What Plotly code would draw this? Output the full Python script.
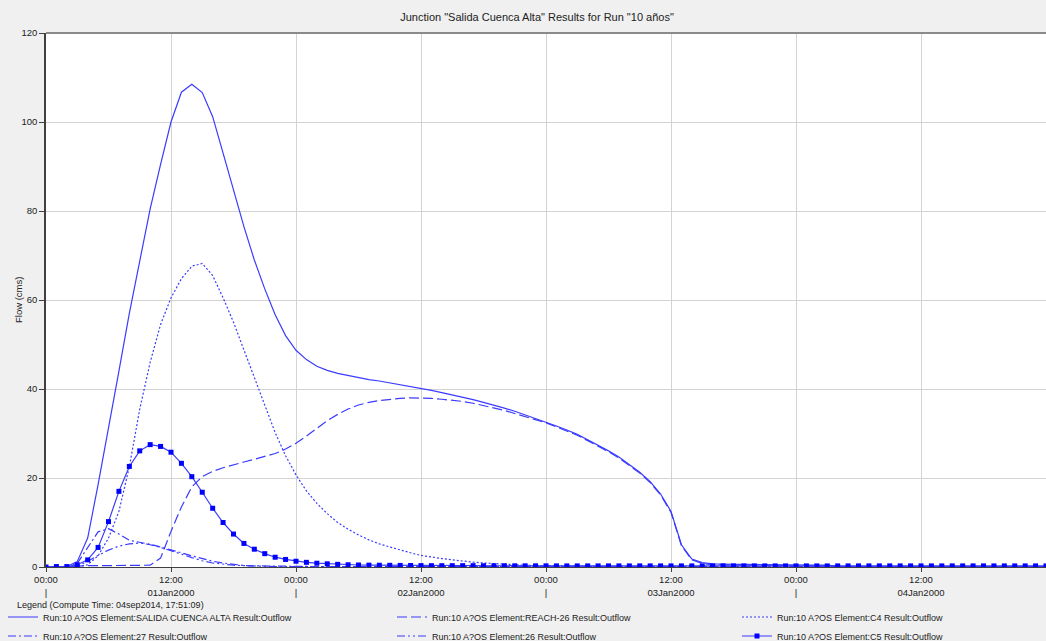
import plotly.graph_objects as go
import pandas as pd

# ---------------- data (hourly, 01Jan2000 00:00 .. 05Jan2000 00:00) ----------------
start_time = "2000-01-01 00:00"
n_hours = 97

salida = [
    0, 0, 0.1, 1.2, 6.5, 18.5, 31, 44, 57, 69,
    80.5, 90.5, 100, 106.7, 108.5, 106.6, 101.2, 93, 84.5, 76.5,
    69, 62.5, 56.7, 52, 48.7, 46.6, 45.1, 44.2, 43.5, 43,
    42.5, 42.1, 41.8, 41.4, 41, 40.6, 40.1, 39.7, 39.2, 38.7,
    38.2, 37.6, 37, 36.4, 35.7, 35, 34.2, 33.4, 32.6, 31.7,
    30.8, 29.8, 28.6, 27.4, 26.1, 24.7, 23.1, 21.3, 19.2, 16.4,
    12.5, 5, 1.8, 1.0, 0.7, 0.6, 0.6, 0.6, 0.6, 0.55,
    0.55, 0.5, 0.5, 0.5, 0.45, 0.4, 0.15, 0.1, 0.1, 0.1,
    0.1, 0.1, 0.1, 0.1, 0.1, 0.1, 0.1, 0.1, 0.1, 0.1,
    0.1, 0.1, 0.1, 0.1, 0.1, 0.1, 0.1,
]

reach26 = [
    0, 0.1, 0.2, 0.3, 0.3, 0.3, 0.3, 0.3, 0.3, 0.3,
    0.4, 2, 8, 13.5, 18, 20.3, 21.5, 22.3, 23, 23.6,
    24.2, 24.8, 25.5, 26.5, 27.8, 29.4, 31.2, 32.9, 34.3, 35.5,
    36.4, 37, 37.4, 37.7, 37.9, 38, 38, 37.9, 37.7, 37.5,
    37.2, 36.8, 36.3, 35.8, 35.2, 34.5, 33.8, 33.1, 32.4, 31.5,
    30.6, 29.6, 28.4, 27.2, 25.9, 24.5, 22.9, 21.1, 19.0, 16.2,
    12.3, 4.8, 1.6, 0.8, 0.5, 0.4, 0.4, 0.4, 0.4, 0.35,
    0.35, 0.3, 0.3, 0.3, 0.3, 0.25, 0.1, 0.05, 0.05, 0.05,
    0.05, 0.05, 0.05, 0.05, 0.05, 0.05, 0.05, 0.05, 0.05, 0.05,
    0.05, 0.05, 0.05, 0.05, 0.05, 0.05, 0.05,
]

c4 = [
    0, 0, 0, 0.1, 0.5, 2.5, 6.5, 12.5, 22.5, 35.5,
    46, 54.5, 60.5, 64.8, 67.6, 68.2, 65.5, 60.5, 55, 48.8,
    42.5, 36.3, 30.2, 25, 20.7, 17.1, 14.3, 12, 10, 8.5,
    7.2, 6.1, 5.2, 4.5, 3.8, 3.2, 2.6, 2.2, 1.9, 1.6,
    1.3, 1.1, 0.9, 0.75, 0.6, 0.5, 0.4, 0.35, 0.3, 0.25,
    0.2, 0.2, 0.15, 0.15, 0.1, 0.1, 0.1, 0.1, 0.1, 0.1,
    0.05, 0.05, 0.05, 0.05, 0.05, 0.05, 0.05, 0.05, 0.05, 0.05,
    0.05, 0.05, 0.05, 0.05, 0.05, 0.05, 0.05, 0.05, 0.05, 0.05,
    0.05, 0.05, 0.05, 0.05, 0.05, 0.05, 0.05, 0.05, 0.05, 0.05,
    0.05, 0.05, 0.05, 0.05, 0.05, 0.05, 0.05,
]

el27 = [
    0, 0, 0, 0.8, 4.5, 7.9, 8.6, 7.4, 6.0, 5.6,
    5.1, 4.5, 3.9, 3.2, 2.5, 1.9, 1.3, 0.9, 0.55, 0.35,
    0.25, 0.2, 0.15, 0.1, 0.1, 0.1, 0.1, 0.1, 0.1, 0.1,
    0.05, 0.05, 0.05, 0.05, 0.05, 0.05, 0.05, 0.05, 0.05, 0.05,
    0.05, 0.05, 0.05, 0.05, 0.05, 0.05, 0.05, 0.05, 0.05, 0.05,
    0.05, 0.05, 0.05, 0.05, 0.05, 0.05, 0.05, 0.05, 0.05, 0.05,
    0.05, 0.05, 0.05, 0.05, 0.05, 0.05, 0.05, 0.05, 0.05, 0.05,
    0.05, 0.05, 0.05, 0.05, 0.05, 0.05, 0.05, 0.05, 0.05, 0.05,
    0.05, 0.05, 0.05, 0.05, 0.05, 0.05, 0.05, 0.05, 0.05, 0.05,
    0.05, 0.05, 0.05, 0.05, 0.05, 0.05, 0.05,
]

el26 = [
    0, 0, 0, 0.2, 1.3, 2.6, 3.8, 4.7, 5.2, 5.4,
    5.0, 4.4, 3.7, 2.9, 2.1, 1.4, 0.9, 0.6, 0.4, 0.3,
    0.2, 0.15, 0.1, 0.1, 0.1, 0.1, 0.1, 0.1, 0.1, 0.1,
    0.05, 0.05, 0.05, 0.05, 0.05, 0.05, 0.05, 0.05, 0.05, 0.05,
    0.05, 0.05, 0.05, 0.05, 0.05, 0.05, 0.05, 0.05, 0.05, 0.05,
    0.05, 0.05, 0.05, 0.05, 0.05, 0.05, 0.05, 0.05, 0.05, 0.05,
    0.05, 0.05, 0.05, 0.05, 0.05, 0.05, 0.05, 0.05, 0.05, 0.05,
    0.05, 0.05, 0.05, 0.05, 0.05, 0.05, 0.05, 0.05, 0.05, 0.05,
    0.05, 0.05, 0.05, 0.05, 0.05, 0.05, 0.05, 0.05, 0.05, 0.05,
    0.05, 0.05, 0.05, 0.05, 0.05, 0.05, 0.05,
]

c5 = [
    0, 0.1, 0.1, 0.5, 1.6, 4.4, 10.2, 17, 22.6, 26.1,
    27.5, 27.1, 25.8, 23.3, 20.3, 16.8, 13.2, 10, 7.4, 5.3,
    4.0, 3.0, 2.2, 1.7, 1.3, 1.05, 0.85, 0.72, 0.6, 0.5,
    0.45, 0.42, 0.4, 0.38, 0.36, 0.34, 0.32, 0.3, 0.3, 0.3,
    0.3, 0.3, 0.28, 0.28, 0.28, 0.27, 0.27, 0.26, 0.26, 0.25,
    0.25, 0.25, 0.25, 0.25, 0.25, 0.25, 0.25, 0.25, 0.25, 0.25,
    0.25, 0.25, 0.25, 0.25, 0.25, 0.25, 0.25, 0.25, 0.25, 0.25,
    0.25, 0.25, 0.25, 0.25, 0.25, 0.25, 0.25, 0.25, 0.25, 0.25,
    0.25, 0.25, 0.25, 0.25, 0.25, 0.25, 0.25, 0.25, 0.25, 0.25,
    0.25, 0.25, 0.25, 0.25, 0.25, 0.25, 0.25,
]

series_names = [
    "Run:10 A?OS Element:SALIDA CUENCA ALTA Result:Outflow",
    "Run:10 A?OS Element:REACH-26 Result:Outflow",
    "Run:10 A?OS Element:C4 Result:Outflow",
    "Run:10 A?OS Element:27 Result:Outflow",
    "Run:10 A?OS Element:26 Result:Outflow",
    "Run:10 A?OS Element:C5 Result:Outflow",
]

tick_times = [
    "2000-01-01 00:00", "2000-01-01 12:00", "2000-01-02 00:00", "2000-01-02 12:00",
    "2000-01-03 00:00", "2000-01-03 12:00", "2000-01-04 00:00", "2000-01-04 12:00",
    "2000-01-05 00:00",
]
tick_text = [
    "00:00<br>|", "12:00<br>01Jan2000", "00:00<br>|", "12:00<br>02Jan2000",
    "00:00<br>|", "12:00<br>03Jan2000", "00:00<br>|", "12:00<br>04Jan2000",
    "00:00<br>|",
]
y_ticks = [0, 20, 40, 60, 80, 100, 120]

title_text = 'Junction "Salida Cuenca Alta" Results for Run "10 años"'
legend_caption = "Legend (Compute Time: 04sep2014, 17:51:09)"

# ---------------- figure ----------------
times = pd.date_range(start_time, periods=n_hours, freq="h")
LINE = "#3b3bff"
FONT = "Liberation Sans, Arial, sans-serif"

# plot area in pixels: x 46..1046, y 33..567
PL, PW, PB, PH = 46, 1000, 567, 534


def px_x(px):
    return (px - PL) / PW


def px_y(py):
    return (PB - py) / PH


fig = go.Figure()
fig.add_trace(go.Scatter(x=times, y=salida, mode="lines", name=series_names[0],
                         line=dict(color=LINE, width=1.2), legend="legend"))
fig.add_trace(go.Scatter(x=times, y=reach26, mode="lines", name=series_names[1],
                         line=dict(color=LINE, width=1.2, dash="10px,4px"), legend="legend2"))
fig.add_trace(go.Scatter(x=times, y=c4, mode="lines", name=series_names[2],
                         line=dict(color=LINE, width=1.2, dash="2px,2px"), legend="legend3"))
fig.add_trace(go.Scatter(x=times, y=el27, mode="lines", name=series_names[3],
                         line=dict(color=LINE, width=1.2, dash="8px,3px,2px,3px"), legend="legend"))
fig.add_trace(go.Scatter(x=times, y=el26, mode="lines", name=series_names[4],
                         line=dict(color=LINE, width=1.2, dash="8px,3px,2px,3px,2px,3px"),
                         legend="legend2"))
fig.add_trace(go.Scatter(x=times, y=c5, mode="lines+markers", name=series_names[5],
                         line=dict(color=LINE, width=1.2),
                         marker=dict(symbol="square", size=5, color="#0000ff"),
                         legend="legend3"))

legend_common = dict(xref="paper", yref="paper", xanchor="left", yanchor="top",
                     y=px_y(602.5), bgcolor="rgba(0,0,0,0)", tracegroupgap=0,
                     orientation="v",
                     font=dict(family=FONT, size=9, color="#222"))

fig.update_layout(
    width=1046, height=641,
    margin=dict(l=46, r=0, t=33, b=74, autoexpand=False),
    paper_bgcolor="#f0f0f0",
    plot_bgcolor="white",
    font=dict(family=FONT, size=10, color="#222"),
    title=dict(text=title_text, x=537 / 1046, xanchor="center", xref="container",
               y=1 - 17 / 641, yanchor="middle", yref="container",
               font=dict(family=FONT, size=11, color="#222")),
    legend=dict(x=px_x(3), **legend_common),
    legend2=dict(x=px_x(392), **legend_common),
    legend3=dict(x=px_x(737), **legend_common),
    xaxis=dict(type="date", range=[tick_times[0], tick_times[-1]],
               tickmode="array", tickvals=tick_times, ticktext=tick_text,
               tickfont=dict(size=9.5), showgrid=True, gridcolor="#d3d3d3", gridwidth=1,
               ticks="outside", ticklen=4, tickcolor="#404040",
               showline=True, linecolor="#404040", linewidth=1, zeroline=False,
               automargin=False),
    yaxis=dict(range=[0, 120], tickmode="array", tickvals=y_ticks,
               tickfont=dict(size=9.5), showgrid=True, gridcolor="#d3d3d3", gridwidth=1,
               ticks="outside", ticklen=5, tickcolor="#404040",
               showline=True, linecolor="#404040", linewidth=1.5, zeroline=False,
               automargin=False),
    shapes=[dict(type="line", xref="paper", yref="paper", x0=0, x1=1, y0=1, y1=1,
                 line=dict(color="#8a8a8a", width=2))],
    annotations=[
        dict(text=legend_caption, xref="paper", yref="paper", x=px_x(15),
             y=px_y(605), xanchor="left", yanchor="middle", showarrow=False,
             font=dict(family=FONT, size=9, color="#222")),
        dict(text="Flow (cms)", xref="paper", yref="paper", x=px_x(18), y=0.5,
             xanchor="center", yanchor="middle", textangle=-90, showarrow=False,
             font=dict(family=FONT, size=9.5, color="#222")),
    ],
)

fig.write_html(
    "out.html",
    config={"displayModeBar": False},
    post_script="document.body.style.margin='0';document.body.style.background='#f0f0f0';",
)
